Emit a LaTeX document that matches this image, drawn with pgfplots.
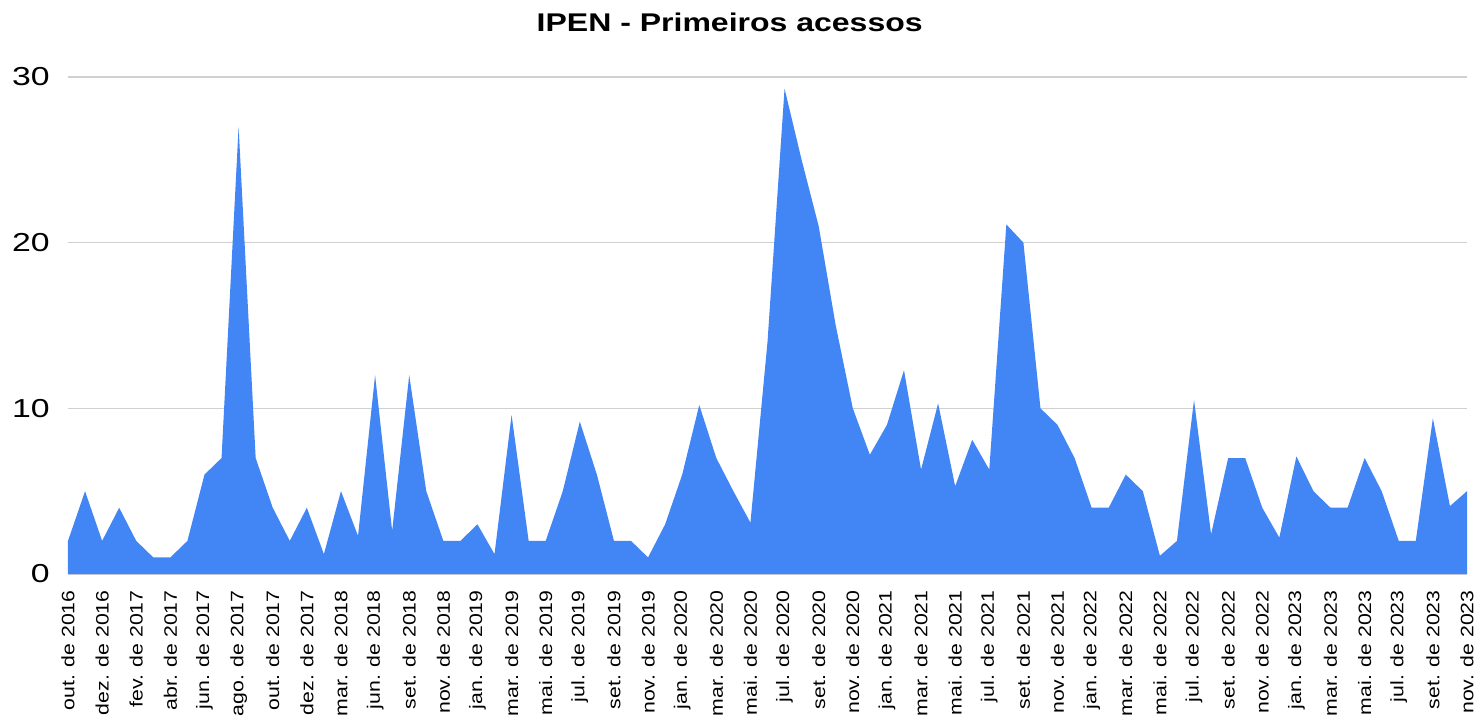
\documentclass[border=0pt]{standalone}
\usepackage{graphicx}
\usepackage{fontspec}
\setmainfont{Liberation Sans}
\usepackage{pgfplots}
\pgfplotsset{compat=1.18}
\definecolor{gblue}{HTML}{4285F4}
\definecolor{gridc}{HTML}{D0D0D0}
\newcommand{\xl}[1]{\scalebox{1.18}[1]{#1}}
\newcommand{\yl}[1]{\scalebox{1.3}[1]{#1}}
\begin{document}
\begin{tikzpicture}
\begin{axis}[
  at={(0,0)}, anchor=south west,
  scale only axis,
  width=699.5pt, height=248.5pt,
  xmin=0, xmax=82, ymin=0, ymax=30,
  axis line style={draw=none},
  major tick length=0pt,
  ymajorgrids,
  grid style={color=gridc, line width=0.6pt},
  ytick={0,10,20,30},
  yticklabels={\yl{0},\yl{10},\yl{20},\yl{30}},
  yticklabel style={anchor=east, inner sep=0pt, xshift=-9pt, font=\fontsize{13}{15}\selectfont},
  xtick={0,2,...,82},
  xticklabels={\xl{out. de 2016},\xl{dez. de 2016},\xl{fev. de 2017},\xl{abr. de 2017},\xl{jun. de 2017},\xl{ago. de 2017},\xl{out. de 2017},\xl{dez. de 2017},\xl{mar. de 2018},\xl{jun. de 2018},\xl{set. de 2018},\xl{nov. de 2018},\xl{jan. de 2019},\xl{mar. de 2019},\xl{mai. de 2019},\xl{jul. de 2019},\xl{set. de 2019},\xl{nov. de 2019},\xl{jan. de 2020},\xl{mar. de 2020},\xl{mai. de 2020},\xl{jul. de 2020},\xl{set. de 2020},\xl{nov. de 2020},\xl{jan. de 2021},\xl{mar. de 2021},\xl{mai. de 2021},\xl{jul. de 2021},\xl{set. de 2021},\xl{nov. de 2021},\xl{jan. de 2022},\xl{mar. de 2022},\xl{mai. de 2022},\xl{jul. de 2022},\xl{set. de 2022},\xl{nov. de 2022},\xl{jan. de 2023},\xl{mar. de 2023},\xl{mai. de 2023},\xl{jul. de 2023},\xl{set. de 2023},\xl{nov. de 2023}},
  xticklabel style={yshift=-8pt, rotate=90, anchor=east, inner sep=0pt, font=\fontsize{9}{11}\selectfont},
  title={\scalebox{1.25}[1]{IPEN - Primeiros acessos}},
  every axis title/.style={at={(axis description cs:0.473,1.1107)}, anchor=center, inner sep=0pt, font=\fontsize{12.8}{15}\selectfont\bfseries},
  clip=false,
]
\addplot[fill=gblue, draw=none] table {
x y
0 2
1 5
2 2
3 4
4 2
5 1
6 1
7 2
8 6
9 7
10 27
11 7
12 4
13 2
14 4
15 1.2
16 5
17 2.3
18 12
19 2.6
20 12
21 5
22 2
23 2
24 3
25 1.2
26 9.6
27 2
28 2
29 5
30 9.2
31 6
32 2
33 2
34 1
35 3
36 6
37 10.2
38 7
39 5
40 3.1
41 14
42 29.3
43 25
44 21
45 15
46 10
47 7.2
48 9
49 12.3
50 6.3
51 10.3
52 5.3
53 8.1
54 6.3
55 21.1
56 20
57 10
58 9
59 7
60 4
61 4
62 6
63 5
64 1.1
65 2
66 10.5
67 2.4
68 7
69 7
70 4
71 2.2
72 7.1
73 5
74 4
75 4
76 7
77 5
78 2
79 2
80 9.4
81 4.1
82 5
} \closedcycle;
\end{axis}
\pgfresetboundingbox
\path[use as bounding box] (-34pt,-72.5pt) rectangle (705pt,287pt);
\end{tikzpicture}
\end{document}
